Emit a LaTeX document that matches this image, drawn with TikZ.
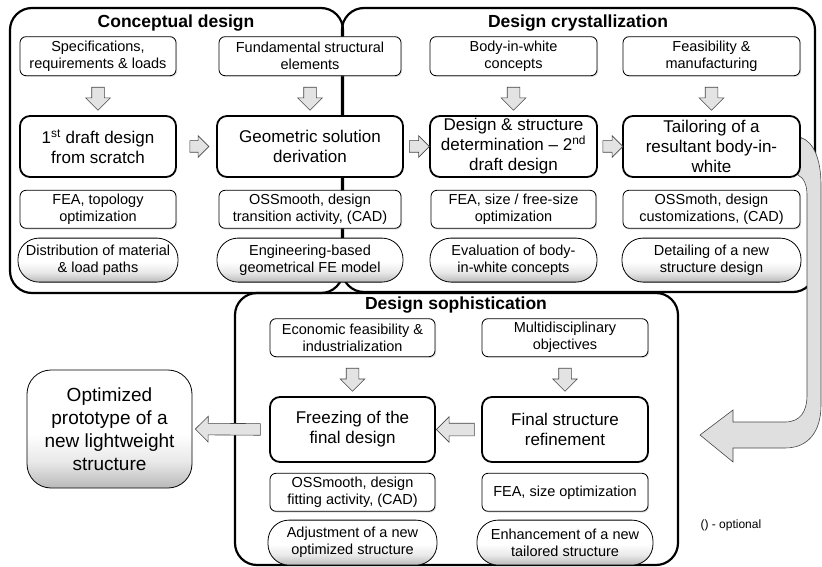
\documentclass[tikz,border=0pt]{standalone}
\usepackage{fontspec}
\setmainfont{Liberation Sans}
\usetikzlibrary{positioning}
\usetikzlibrary{shapes.arrows}
\usetikzlibrary{shadows}
\pgfdeclarelayer{back}
\pgfdeclarelayer{background}
\pgfsetlayers{back,background,main}
\pgfdeclareverticalshading{rimshade}{100bp}{color(0bp)=(gray!55); color(25bp)=(gray!55); color(36bp)=(gray!18); color(48bp)=(white); color(100bp)=(white)}
\tikzstyle{phase}=[draw, line width=2.2pt, rounded corners=22pt]
\tikzstyle{phasetitle}=[font=\fontsize{17.5}{20}\selectfont\bfseries]
\tikzstyle{reqbox}=[draw, line width=0.8pt, rounded corners=6pt, fill=white, align=center, inner sep=0pt, minimum height=39pt, font=\fontsize{14.5}{17}\selectfont, drop shadow={opacity=0.25, shadow xshift=1.2pt, shadow yshift=-1.2pt}]
\tikzstyle{toolbox}=[reqbox, minimum height=38pt]
\tikzstyle{stagebox}=[draw, line width=1.8pt, rounded corners=10pt, fill=white, align=center, inner sep=0pt, minimum height=61pt, font=\fontsize{17}{20}\selectfont]
\tikzstyle{outcome}=[draw, line width=0.8pt, rounded corners=21pt, shading=rimshade, align=center, inner sep=0pt, minimum height=44pt, font=\fontsize{14.5}{17}\selectfont]
\tikzstyle{flowarrow}=[single arrow, draw=gray!55!black, fill=gray!22, line width=0.6pt, inner xsep=0pt, inner ysep=6pt, single arrow head extend=6pt, minimum height=23pt, sloped, allow upside down, midway]

\begin{document}
\begin{tikzpicture}[x=1pt, y=-1pt]
    \useasboundingbox (0,0) rectangle (822,567);

    % conceptual design
    \node[stagebox, minimum width=156pt] (draft) at (98,146.5)          {1\textsuperscript{st} draft design\\from scratch};
    \node[reqbox, minimum width=156pt]   (specs)   [above=39pt of draft] {Specifications,\\requirements \& loads};
    \node[toolbox, minimum width=156pt]  (topo)    [below=12pt of draft] {FEA, topology\\optimization};
    \node[outcome, minimum width=160pt]  (paths)   [below=9pt of topo]   {Distribution of material\\\& load paths};

    \node[stagebox, minimum width=186pt] (geom) at (310,146.5)          {Geometric solution\\derivation};
    \node[reqbox, minimum width=182pt]   (elems)   [above=39pt of geom]  {Fundamental structural\\elements};
    \node[toolbox, minimum width=182pt]  (smooth)  [below=12pt of geom]  {OSSmooth, design\\transition activity, (CAD)};
    \node[outcome, minimum width=186pt]  (femodel) [below=9pt of smooth] {Engineering-based\\geometrical FE model};

    % design crystallization
    \node[stagebox, minimum width=167pt] (second) at (513.5,146.5)       {Design \& structure\\determination -- 2\textsuperscript{nd}\\draft design};
    \node[reqbox, minimum width=167pt]   (biw)     [above=39pt of second] {Body-in-white\\concepts};
    \node[toolbox, minimum width=165pt]  (freesize)[below=12pt of second] {FEA, size / free-size\\optimization};
    \node[outcome, minimum width=167pt]  (evalbiw) [below=9pt of freesize] {Evaluation of body-\\in-white concepts};

    \node[stagebox, minimum width=177pt] (tailor) at (711.5,146.5)       {Tailoring of a\\resultant body-in-\\white};
    \node[reqbox, minimum width=177pt]   (manuf)   [above=39pt of tailor] {Feasibility \&\\manufacturing};
    \node[toolbox, minimum width=177pt]  (custom)  [below=12pt of tailor] {OSSmoth, design\\customizations, (CAD)};
    \node[outcome, minimum width=179pt]  (detail)  [below=9pt of custom]  {Detailing of a new\\structure design};

    % design sophistication
    \node[stagebox, minimum width=165pt, minimum height=65pt] (freeze) at (352.5,429.5) {Freezing of the\\final design};
    \node[reqbox, minimum width=165pt, minimum height=38pt]   (econ)   [above=39pt of freeze] {Economic feasibility \&\\industrialization};
    \node[toolbox, minimum width=165pt]  (fitting) [below=10pt of freeze]  {OSSmooth, design\\fitting activity, (CAD)};
    \node[outcome, minimum width=169pt, minimum height=45pt]  (adjust) [below=8pt of fitting] {Adjustment of a new\\optimized structure};

    \node[stagebox, minimum width=166pt, minimum height=65pt] (refine) at (565,429.5) {Final structure\\refinement};
    \node[reqbox, minimum width=166pt, minimum height=38pt]   (multi)  [above=39pt of refine] {Multidisciplinary\\objectives};
    \node[toolbox, minimum width=166pt]  (sizeopt) [below=10pt of refine]  {FEA, size optimization};
    \node[outcome, minimum width=176pt, minimum height=45pt]  (enhance) [below=8pt of sizeopt] {Enhancement of a new\\tailored structure};

    \node[draw, line width=0.8pt, rounded corners=24pt, shading=rimshade, align=center, minimum width=165pt, minimum height=118pt, inner sep=0pt, font=\fontsize{19}{23}\selectfont] (proto) at (109.5,429) {Optimized\\prototype of a\\new lightweight\\structure};

    \node[anchor=west, font=\fontsize{12}{14}\selectfont] (optional) at (697,525) {() - optional};

    % phase titles and frames
    \node[phasetitle] (tconc)  at (176,23)  {Conceptual design};
    \node[phasetitle] (tcryst) at (578,23)  {Design crystallization};
    \node[phasetitle] (tsoph)  at (456,305) {Design sophistication};
    \begin{pgfonlayer}{back}
      \draw[phase] (10,8) rectangle (343,293);
      \draw[phase] (342,8) rectangle (815,292);
      \draw[phase] (235,293) rectangle (678,565);
    \end{pgfonlayer}

    % block arrows
    \path (specs.south) -- node[flowarrow] {} (draft.north);
    \path (elems.south) -- node[flowarrow] {} (geom.north);
    \path (biw.south)   -- node[flowarrow] {} (second.north);
    \path (manuf.south) -- node[flowarrow] {} (tailor.north);
    \path (econ.south)  -- node[flowarrow] {} (freeze.north);
    \path (multi.south) -- node[flowarrow] {} (refine.north);
    \path (draft.east)  -- node[flowarrow, minimum height=19pt, inner ysep=5.5pt, single arrow head extend=5pt] {} (geom.west);
    \path (geom.east)   -- node[flowarrow, minimum height=20pt, inner ysep=5.5pt, single arrow head extend=5pt] {} (second.west);
    \path (second.east) -- node[flowarrow, minimum height=20pt, inner ysep=5.5pt, single arrow head extend=5pt] {} (tailor.west);
    \path (refine.west) -- node[flowarrow, minimum height=38pt, single arrow head extend=6.5pt] {} (freeze.east);
    \path (freeze.west) -- node[flowarrow, minimum height=65pt, inner ysep=5.5pt, single arrow head extend=7pt] {} (proto.east);

    % curved arrow back into the last phase
    \coordinate (bendtip) at (700,435);
    \begin{pgfonlayer}{background}
      \draw[draw=gray!55!black, fill=gray!25, line width=0.6pt]
        (tailor.east) ++(0,-9) .. controls (814,142) and (821,160) .. (821,185)
        -- (821,405) .. controls (821,432) and (808,448) .. (785,448)
        -- (733,448) -- (733,462) -- (bendtip) -- (733,410) -- (733,422)
        -- (785,422) .. controls (800,422) and (807,412) .. (807,395)
        -- (807,195) .. controls (807,185) and (804,178) .. (798,175) -- cycle;
    \end{pgfonlayer}
\end{tikzpicture}
\end{document}
